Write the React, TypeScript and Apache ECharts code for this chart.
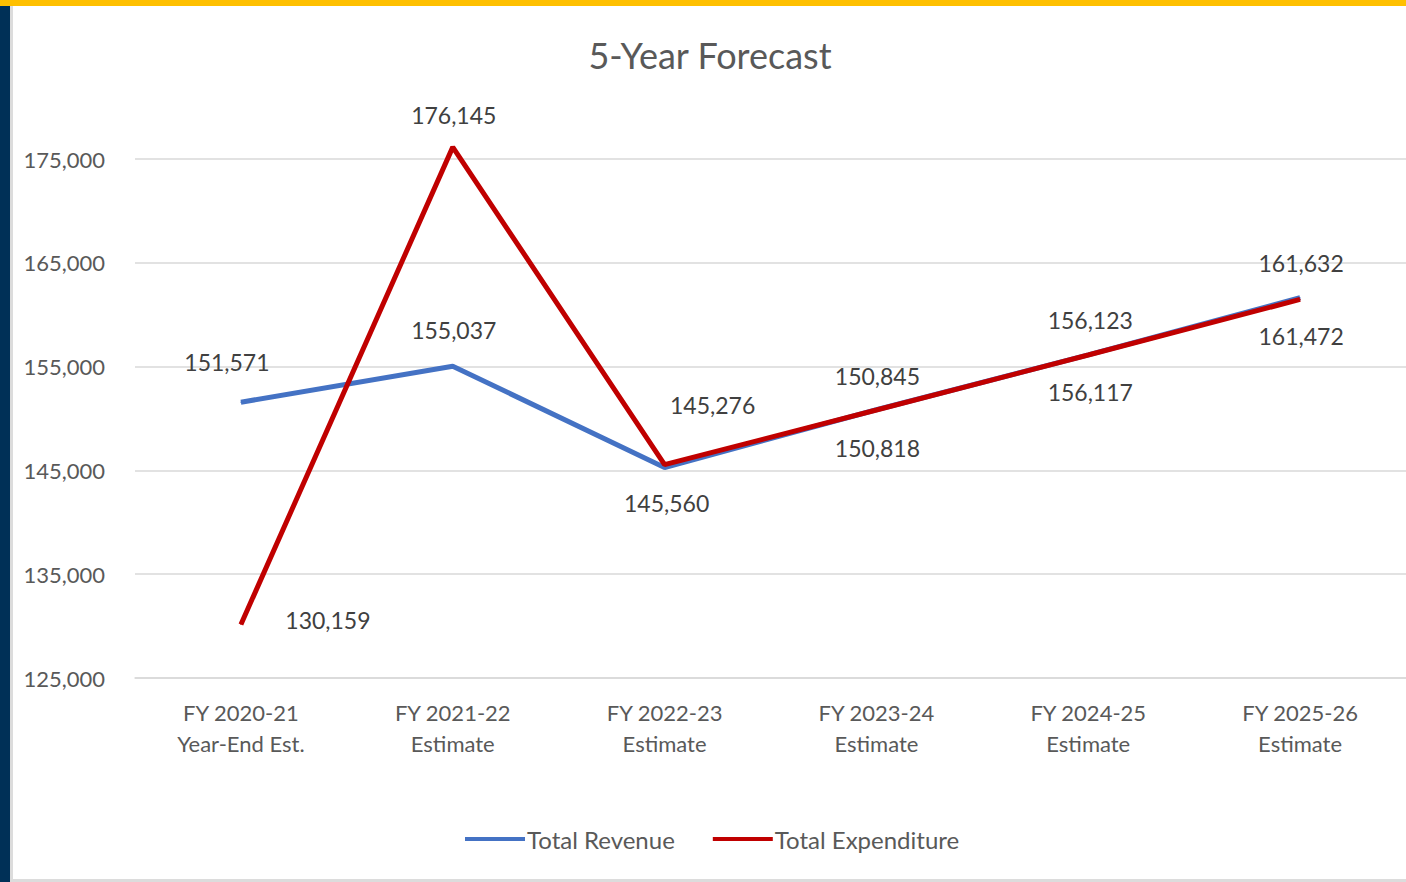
import React, { useEffect, useRef } from "react";
import * as echarts from "echarts";

const categories = [
  "FY 2020-21\nYear-End Est.",
  "FY 2021-22\nEstimate",
  "FY 2022-23\nEstimate",
  "FY 2023-24\nEstimate",
  "FY 2024-25\nEstimate",
  "FY 2025-26\nEstimate",
];
const revenue = [151571, 155037, 145276, 150845, 156123, 161632];
const expenditure = [130159, 176145, 145560, 150818, 156117, 161472];

// label offsets (style only)
const revenueLabelOffsets = [
  [-14, -40],
  [1, -36],
  [48, -63],
  [1, -34],
  [2, -35],
  [1, -35],
];
const expenditureLabelOffsets = [
  [87, -4],
  [1, -32],
  [2, 38],
  [1, 38],
  [2, 37],
  [1, 37],
];

const FONT = "Lato, 'Open Sans', sans-serif";
const fmt = (v: number) => v.toLocaleString("en-US");

export default function App() {
  const ref = useRef<HTMLDivElement>(null);
  useEffect(() => {
    if (!ref.current) return;
    const chart = echarts.init(ref.current, undefined, { renderer: "svg" });
    const mkData = (vals: number[], offs: number[][]) =>
      vals.map((v, i) => ({
        value: v,
        label: { offset: offs[i] },
      }));
    chart.setOption({
      animation: false,
      backgroundColor: "transparent",
      textStyle: { fontFamily: FONT },
      title: {
        text: "5-Year Forecast",
        left: 705,
        textAlign: "center",
        top: 32,
        textStyle: {
          fontFamily: FONT,
          fontSize: 36,
          fontWeight: "normal",
          color: "#595959",
        },
      },
      legend: {
        left: 460,
        top: 822,
        itemWidth: 60,
        itemHeight: 4,
        itemGap: 38,
        icon: "rect",
        textStyle: {
          fontFamily: FONT,
          fontSize: 24,
          color: "#595959",
          padding: [0, 0, 0, -3],
        },
        data: ["Total Revenue", "Total Expenditure"],
      },
      grid: { left: 135, top: 159, width: 1276, height: 519, containLabel: false },
      xAxis: {
        type: "category",
        data: categories,
        boundaryGap: true,
        axisLine: { lineStyle: { color: "#D9D9D9", width: 1.5 } },
        axisTick: { show: false },
        axisLabel: {
          fontFamily: FONT,
          fontSize: 22,
          lineHeight: 31,
          color: "#595959",
          margin: 19,
        },
      },
      yAxis: {
        type: "value",
        min: 125000,
        max: 175000,
        interval: 10000,
        axisLine: { show: false },
        axisTick: { show: false },
        splitLine: { lineStyle: { color: "#D9D9D9", width: 1.5 } },
        axisLabel: {
          fontFamily: FONT,
          fontSize: 22,
          color: "#595959",
          margin: 30,
          formatter: (v: number) => fmt(v),
        },
      },
      series: [
        {
          name: "Total Revenue",
          type: "line",
          clip: false,
          data: mkData(revenue, revenueLabelOffsets),
          symbol: "circle",
          symbolSize: 1,
          lineStyle: { color: "#4472C4", width: 5 },
          itemStyle: { color: "#4472C4" },
          label: {
            show: true,
            position: "inside",
            align: "center",
            verticalAlign: "middle",
            fontFamily: FONT,
            fontSize: 23,
            color: "#404040",
            formatter: (p: any) => fmt(p.value),
          },
          z: 2,
        },
        {
          name: "Total Expenditure",
          type: "line",
          clip: false,
          data: mkData(expenditure, expenditureLabelOffsets),
          symbol: "circle",
          symbolSize: 1,
          lineStyle: { color: "#C00000", width: 5 },
          itemStyle: { color: "#C00000" },
          label: {
            show: true,
            position: "inside",
            align: "center",
            verticalAlign: "middle",
            fontFamily: FONT,
            fontSize: 23,
            color: "#404040",
            formatter: (p: any) => fmt(p.value),
          },
          z: 3,
        },
      ],
    });
    return () => chart.dispose();
  }, []);

  return (
    <div
      style={{
        position: "absolute",
        left: 0,
        top: 0,
        width: 1406,
        height: 882,
        background: "#ffffff",
        overflow: "hidden",
      }}
    >
      <div style={{ position: "absolute", left: 0, top: 0, width: 1406, height: 6, background: "#FFC000" }} />
      <div style={{ position: "absolute", left: 0, top: 6, width: 10, height: 876, background: "#003057" }} />
      <div style={{ position: "absolute", left: 10, top: 6, width: 3, height: 876, background: "#DCDCDC" }} />
      <div style={{ position: "absolute", left: 10, top: 879, width: 1396, height: 3, background: "#DCDCDC" }} />
      <div ref={ref} style={{ position: "absolute", left: 0, top: 0, width: 1406, height: 882 }} />
    </div>
  );
}
